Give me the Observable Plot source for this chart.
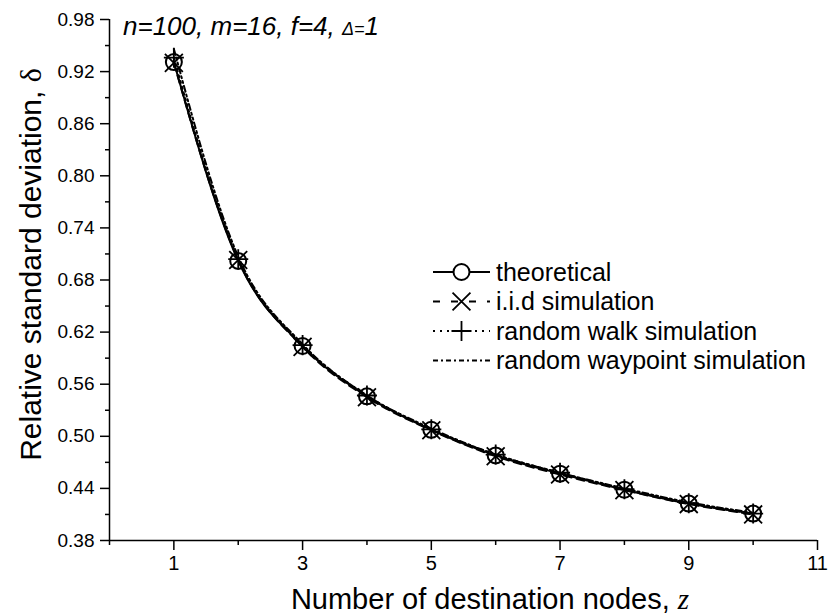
<!DOCTYPE html>
<html><head><meta charset="utf-8">
<script src="https://cdn.jsdelivr.net/npm/d3@7"></script>
<script src="https://cdn.jsdelivr.net/npm/@observablehq/plot@0.6"></script>
<style>
body{margin:0;background:#fff;}
#wrap{position:relative;width:830px;height:616px;}
</style></head><body><div id="wrap"></div>
<script>
// ---- data ----
const z = [1, 2, 3, 4, 5, 6, 7, 8, 9, 10];
const theoretical    = [0.931, 0.702, 0.604, 0.546, 0.5075, 0.478, 0.457, 0.4385, 0.4225, 0.411];
const iidSimulation  = [0.930, 0.703, 0.603, 0.545, 0.507, 0.477, 0.456, 0.438, 0.422, 0.410];
const randomWalk     = [0.936, 0.704, 0.605, 0.547, 0.508, 0.479, 0.458, 0.439, 0.423, 0.411];
const randomWaypoint = [0.946, 0.707, 0.606, 0.547, 0.509, 0.479, 0.458, 0.440, 0.424, 0.412];
const seriesNames = ["theoretical", "i.i.d simulation", "random walk simulation", "random waypoint simulation"];
const seriesValues = [theoretical, iidSimulation, randomWalk, randomWaypoint];
const seriesDash = [null, "8,5", "2,4", "6,3,2,3,2,3"];
const legendDash = [null, "7,11", "2,5", "5,3,2,3"];
const seriesSymbol = ["circle", "times", "plus", null];
const xTicks = [1, 3, 5, 7, 9, 11];
const xMinorTicks = [0, 2, 4, 6, 8, 10];
const yTicks = [0.38, 0.44, 0.50, 0.56, 0.62, 0.68, 0.74, 0.80, 0.86, 0.92, 0.98];
const yMinorTicks = [0.41, 0.47, 0.53, 0.59, 0.65, 0.71, 0.77, 0.83, 0.89, 0.95];

const SANS = "'Liberation Sans', Arial, sans-serif";
const SERIF = "'Liberation Serif', 'Times New Roman', serif";

const rows = seriesNames.flatMap((name, k) => z.map((zz, i) => ({series: name, k, z: zz, d: seriesValues[k][i]})));
const bySeries = k => rows.filter(r => r.k === k);

const marks = [];
seriesNames.forEach((name, k) => {
  marks.push(Plot.line(bySeries(k), {x: "z", y: "d", stroke: "black", strokeWidth: 2,
    strokeDasharray: seriesDash[k], curve: "monotone-x"}));
});
marks.push(Plot.dot(bySeries(0), {x: "z", y: "d", r: 8, stroke: "black", strokeWidth: 2, fill: "none"}));
marks.push(Plot.dot(bySeries(1), {x: "z", y: "d", symbol: "times", r: 8.2, stroke: "black", strokeWidth: 1.8}));
marks.push(Plot.dot(bySeries(2), {x: "z", y: "d", symbol: "plus", r: 6.5, stroke: "black", strokeWidth: 1.8}));

const plot = Plot.plot({
  width: 830, height: 616,
  marginLeft: 109, marginRight: 13, marginTop: 19, marginBottom: 76,
  style: {fontFamily: SANS, background: "white", color: "black"},
  x: {domain: [0, 11]},
  y: {domain: [0.38, 0.98]},
  marks: [
    Plot.axisX({ticks: xTicks, tickSize: 10, tickPadding: 5, fontSize: 20, tickFormat: d => d, label: null, strokeWidth: 1.5}),
    Plot.axisX({ticks: xMinorTicks, tickSize: 5, tickFormat: () => "", label: null, strokeWidth: 1.5}),
    Plot.axisY({ticks: yTicks, tickSize: 9, tickPadding: 6, fontSize: 19, tickFormat: d3.format(".2f"), label: null, strokeWidth: 1.5}),
    Plot.axisY({ticks: yMinorTicks, tickSize: 4, tickFormat: () => "", label: null, strokeWidth: 1.5}),
    Plot.ruleX([0], {y1: 0.38, y2: 0.98, strokeWidth: 1.5}),
    Plot.ruleY([0.38], {x1: 0, x2: 11, strokeWidth: 1.5}),
    ...marks
  ]
});
document.getElementById("wrap").appendChild(plot);

// ---- overlays: axis titles, annotation, legend ----
const svg = d3.select(plot);
const xs = plot.scale("x"), ys = plot.scale("y");
const xMid = (xs.range[0] + xs.range[1]) / 2;
const yMid = (ys.range[0] + ys.range[1]) / 2;

const xt = svg.append("text").attr("x", xMid + 27).attr("y", 609).attr("text-anchor", "middle")
  .style("font-family", SANS).style("font-size", "29px").attr("fill", "black");
xt.append("tspan").text("Number of destination nodes, ");
xt.append("tspan").style("font-family", SERIF).style("font-style", "italic").text("z");

const yt = svg.append("text").attr("transform", `translate(41,${yMid - 15}) rotate(-90)`).attr("text-anchor", "middle")
  .style("font-family", SANS).style("font-size", "30px").attr("fill", "black");
yt.append("tspan").text("Relative standard deviation, ");
yt.append("tspan").style("font-family", SERIF).text("δ");

const ann = svg.append("text").attr("x", xs.range[0] + 14).attr("y", 35).attr("text-anchor", "start")
  .style("font-family", SANS).style("font-style", "italic").style("font-size", "26px").attr("fill", "black");
ann.append("tspan").text("n=100, m=16, f=4, ");
ann.append("tspan").style("font-size", "18px").text("Δ=");
ann.append("tspan").text("1");

const lg = svg.append("g").attr("transform", "translate(433,272)");
seriesNames.forEach((name, k) => {
  const g = lg.append("g").attr("transform", `translate(0,${k * 29.5})`);
  g.append("line").attr("x1", 0).attr("x2", 57).attr("y1", 0).attr("y2", 0)
    .attr("stroke", "black").attr("stroke-width", 2).attr("stroke-dasharray", legendDash[k]);
  if (seriesSymbol[k] === "circle") {
    g.append("circle").attr("cx", 28.5).attr("cy", 0).attr("r", 8).attr("fill", "white").attr("stroke", "black").attr("stroke-width", 2);
  } else if (seriesSymbol[k]) {
    const sym = seriesSymbol[k] === "times" ? d3.symbolTimes : d3.symbolPlus;
    const r = seriesSymbol[k] === "times" ? 8.2 : 6.5;
    g.append("path").attr("transform", "translate(28.5,0)").attr("d", d3.symbol(sym, Math.PI * r * r)())
      .attr("fill", "none").attr("stroke", "black").attr("stroke-width", 1.8);
  }
  g.append("text").attr("x", 63).attr("y", 0).attr("dy", "0.35em").attr("text-anchor", "start")
    .style("font-family", SANS).style("font-size", "25px").attr("fill", "black").text(name);
});
</script></body></html>
